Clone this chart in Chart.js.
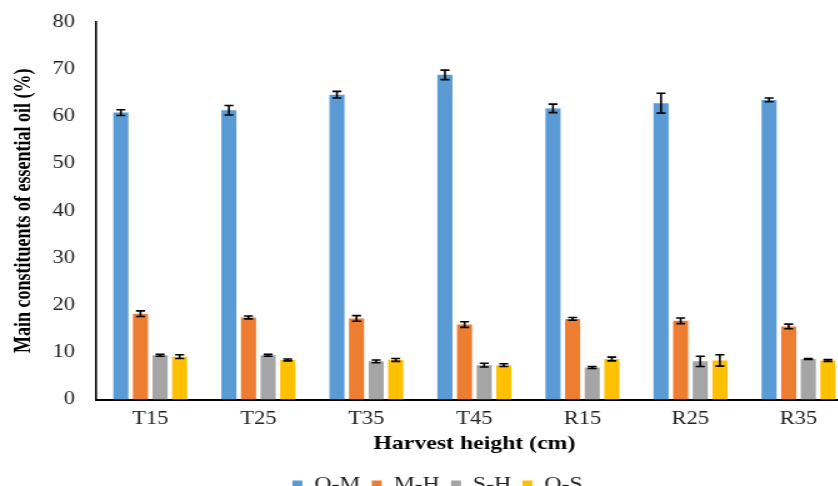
<!DOCTYPE html>
<html>
<head>
<meta charset="utf-8">
<script src="https://cdn.jsdelivr.net/npm/chart.js@4.4.1/dist/chart.umd.min.js"></script>
<style>
  body { margin: 0; background: #fff; overflow: hidden; }
  #wrap { width: 838px; height: 486px; overflow: hidden; position: relative; }
  /* the source picture is stretched sideways, so the canvas is too */
  #chart { display: block; transform: scaleX(1.25); transform-origin: 0 0; }
</style>
</head>
<body>
<div id="wrap"><canvas id="chart" width="682" height="505"></canvas></div>
<script>
const categories = ["T15", "T25", "T35", "T45", "R15", "R25", "R35"];
const seriesNames = ["O-M", "M-H", "S-H", "O-S"];
const seriesColors = ["#5B9BD5", "#ED7D31", "#A5A5A5", "#FFC000"];

const omValues = [60.8, 61.3, 64.6, 68.8, 61.7, 62.8, 63.5];
const omErrors = [0.6, 1.0, 0.7, 1.0, 0.9, 2.1, 0.4];
const mhValues = [18.2, 17.4, 17.2, 15.9, 17.1, 16.7, 15.5];
const mhErrors = [0.6, 0.3, 0.6, 0.6, 0.3, 0.6, 0.5];
const shValues = [9.4, 9.4, 8.1, 7.3, 6.8, 8.1, 8.6];
const shErrors = [0.2, 0.2, 0.3, 0.4, 0.2, 1.1, 0.1];
const osValues = [9.1, 8.4, 8.4, 7.3, 8.6, 8.3, 8.3];
const osErrors = [0.4, 0.2, 0.3, 0.3, 0.4, 1.2, 0.2];

const allValues = [omValues, mhValues, shValues, osValues];
const allErrors = [omErrors, mhErrors, shErrors, osErrors];

const serif = "'Liberation Serif', 'Times New Roman', serif";

// error bars drawn on top of each bar
const errorBars = {
  id: "errorBars",
  afterDatasetsDraw(chart) {
    const ctx = chart.ctx;
    const y = chart.scales.y;
    ctx.save();
    ctx.strokeStyle = "#000";
    ctx.lineWidth = 1.6;
    chart.data.datasets.forEach((ds, i) => {
      const meta = chart.getDatasetMeta(i);
      meta.data.forEach((bar, j) => {
        const v = ds.data[j];
        const e = ds.errors[j];
        const top = y.getPixelForValue(v + e);
        const bot = y.getPixelForValue(v - e);
        const cap = 3.6;
        ctx.beginPath();
        ctx.moveTo(bar.x, top);
        ctx.lineTo(bar.x, bot);
        ctx.moveTo(bar.x - cap, top);
        ctx.lineTo(bar.x + cap, top);
        ctx.moveTo(bar.x - cap, bot);
        ctx.lineTo(bar.x + cap, bot);
        ctx.stroke();
      });
    });
    ctx.restore();
  }
};

const datasets = seriesNames.map((name, i) => ({
  label: name,
  data: allValues[i],
  errors: allErrors[i],
  backgroundColor: seriesColors[i],
  borderWidth: 0,
  categoryPercentage: 0.726,
  barPercentage: 0.77
}));

new Chart(document.getElementById("chart"), {
  type: "bar",
  data: { labels: categories, datasets: datasets },
  plugins: [errorBars],
  options: {
    responsive: false,
    animation: false,
    devicePixelRatio: 1,
    layout: { padding: { top: 22, right: 0, left: 18, bottom: 0 } },
    plugins: {
      tooltip: { enabled: false },
      legend: {
        position: "bottom",
        labels: {
          boxWidth: 8,
          boxHeight: 10,
          padding: 9,
          color: "#222",
          font: { family: serif, size: 19 }
        }
      }
    },
    scales: {
      x: {
        grid: { display: false, drawTicks: false },
        border: { display: true, color: "#000", width: 2 },
        ticks: { color: "#222", padding: 9, font: { family: serif, size: 18 } },
        title: {
          display: true,
          text: "Harvest height (cm)",
          color: "#000",
          padding: { top: -7, bottom: 12 },
          font: { family: serif, size: 19, weight: "bold" }
        }
      },
      y: {
        min: 0,
        max: 80,
        grid: { display: false, drawTicks: false },
        border: { display: true, color: "#000", width: 1.6 },
        ticks: { stepSize: 10, color: "#222", padding: 17, font: { family: serif, size: 18 } },
        title: {
          display: true,
          text: "Main constituents of essential oil (%)",
          color: "#000",
          padding: { top: -9.6, bottom: 0 },
          font: { family: serif, size: 18, weight: "bold" }
        },
        afterFit(scale) {
          scale.width = 59;
          scale.paddingTop = 0;
        }
      }
    }
  }
});
</script>
</body>
</html>
